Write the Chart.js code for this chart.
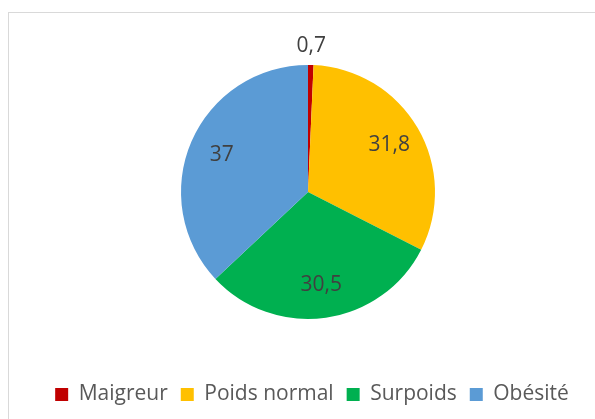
<!DOCTYPE html>
<html>
<head>
<meta charset="utf-8">
<script src="https://cdn.jsdelivr.net/npm/chart.js@4"></script>
<style>
  html, body { margin: 0; padding: 0; background: #fff; }
  #wrap { position: relative; width: 595px; height: 419px; overflow: hidden; }
  #frame { position: absolute; left: 8px; top: 12px; width: 700px; height: 500px;
           border-top: 1px solid #d9d9d9; border-left: 1px solid #d9d9d9; }
  canvas { position: absolute; left: 0; top: 0; }
</style>
</head>
<body>
<div id="wrap">
  <div id="frame"></div>
  <canvas id="pie" width="595" height="419"></canvas>
</div>
<script>
const categories = ['Maigreur', 'Poids normal', 'Surpoids', 'Obésité'];
const values = [0.7, 31.8, 30.5, 37];
const colors = ['#C00000', '#FFC000', '#00B050', '#5B9BD5'];

// valeurs sur les parts (virgule décimale)
const sliceLabels = {
    id: 'sliceLabels',
    afterLayout(chart) {
        // légende un peu décalée à droite, comme dans Excel
        chart.legend.left += 4;
        chart.legend.right += 4;
    },
    afterDatasetsDraw(chart) {
        const ctx = chart.ctx;
        const meta = chart.getDatasetMeta(0);
        ctx.save();
        ctx.font = '21px "Open Sans"';
        ctx.fillStyle = '#404040';
        ctx.textAlign = 'center';
        ctx.textBaseline = 'middle';
        meta.data.forEach((arc, i) => {
            const mid = (arc.startAngle + arc.endAngle) / 2;
            // petite part : étiquette à l'extérieur
            const dist = values[i] < 5 ? arc.outerRadius + 19 : arc.outerRadius * 0.74;
            const x = arc.x + Math.cos(mid) * dist;
            const y = arc.y + Math.sin(mid) * dist;
            ctx.fillText(String(values[i]).replace('.', ','), x, y);
        });
        ctx.restore();
    }
};

// eslint-disable-next-line no-undef
new Chart(document.getElementById('pie'), {
    type: 'pie',
    data: {
        labels: categories,
        datasets: [{
            data: values,
            backgroundColor: colors,
            borderWidth: 0,
            radius: 127
        }]
    },
    options: {
        responsive: false,
        animation: false,
        layout: { padding: { left: 21, right: 0, top: 13, bottom: 4 } },
        plugins: {
            legend: {
                position: 'bottom',
                labels: {
                    boxWidth: 13,
                    boxHeight: 13,
                    padding: 13,
                    color: '#595959',
                    font: { family: '"Open Sans"', size: 21 }
                }
            },
            tooltip: { enabled: false }
        }
    },
    plugins: [sliceLabels]
});
</script>
</body>
</html>
